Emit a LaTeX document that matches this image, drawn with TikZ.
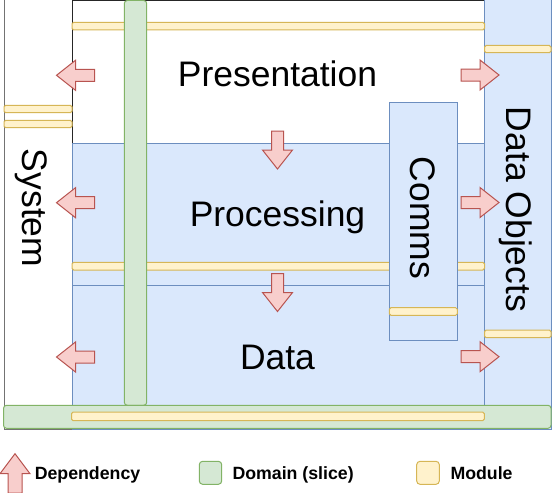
\documentclass[tikz,border=0pt]{standalone}
\usepackage{fontspec}
\setmainfont{Liberation Sans}
\definecolor{bluefill}{HTML}{DAE8FC}
\definecolor{bluedraw}{HTML}{6C8EBF}
\definecolor{greenfill}{HTML}{D5E8D4}
\definecolor{greendraw}{HTML}{82B366}
\definecolor{yellowfill}{HTML}{FFF2CC}
\definecolor{yellowdraw}{HTML}{D6B656}
\definecolor{redfill}{HTML}{F8CECC}
\definecolor{reddraw}{HTML}{B85450}
\tikzset{
  presbox/.style={fill=white,draw=black!85},
  sysbox/.style={fill=white,draw=black!55},
  bluebox/.style={fill=bluefill,draw=bluedraw},
  greenbar/.style={fill=greenfill,draw=greendraw,rounded corners=2.25pt},
  modbar/.style={fill=yellowfill,draw=yellowdraw,rounded corners=1.2pt},
  deparrow/.style={fill=redfill,draw=reddraw},
  biglabel/.style={font=\fontsize{26.6}{30}\selectfont,inner sep=0pt,text height=19pt,text depth=0pt},
  leglabel/.style={font=\fontsize{13.3}{16}\selectfont\bfseries,inner sep=0pt,anchor=base west},
  dep/.pic={\draw[deparrow] (-19,-6) -- (0,-6) -- (0,-15) -- (19,0) -- (0,15) -- (0,6) -- (-19,6) -- cycle;}
}
\begin{document}
\begin{tikzpicture}[x=0.75pt,y=-0.75pt,line width=0.75pt]
\useasboundingbox (0,0) rectangle (552,492);
% layers
\draw[sysbox] (4,-2) rectangle (72,429);
\draw[presbox] (72,0.5) rectangle (484.5,143);
\draw[bluebox] (72,143) rectangle (484.5,285);
\draw[bluebox] (72,285) rectangle (484.5,429);
\draw[bluebox] (484.5,-2) rectangle (551,429);
% modules
\draw[modbar] (72,22.3) rectangle (484.5,30);
\draw[modbar] (4,105.3) rectangle (72,112.7);
\draw[modbar] (4,120.3) rectangle (72,127.7);
\draw[modbar] (484.5,45.5) rectangle (551,52.7);
\draw[modbar] (484.5,330) rectangle (551,337.7);
\draw[modbar] (72,262.3) rectangle (484.5,270);
% comms
\draw[bluebox] (389.3,102.3) rectangle (457.3,340);
\draw[modbar] (389.3,307.7) rectangle (457.3,315.3);
% domain slices
\draw[greenbar] (124.3,0.5) rectangle (146.7,405.3);
\draw[greenbar] (3.5,405.3) rectangle (551,428.3);
\draw[modbar] (71.5,412) rectangle (484.3,420.7);
% dependency arrows
\pic[rotate=180] at (75.5,75.3) {dep};
\pic[rotate=180] at (75.5,202.7) {dep};
\pic[rotate=180] at (75.5,357) {dep};
\pic at (480,75) {dep};
\pic at (480,202.5) {dep};
\pic at (480,356.7) {dep};
\pic[rotate=-90] at (277.5,150) {dep};
\pic[rotate=-90] at (277.5,292.5) {dep};
% labels
\node[biglabel] (pres) at (277.5,73.5) {Presentation};
\node[biglabel] (proc) at (277.5,213.5) {Processing};
\node[biglabel] (data) at (277.5,357) {Data};
\node[biglabel,rotate=-90] (comms) at (423,218) {Comms};
\node[biglabel,rotate=-90] (dobj) at (519.5,209.5) {Data Objects};
\node[biglabel,rotate=-90] (sys) at (35.5,208) {System};
% legend
\draw[deparrow] (15,453.7) -- (30,473.7) -- (22,473.7) -- (22,493) -- (8,493) -- (8,473.7) -- (0,473.7) -- cycle;
\node[leglabel] (legdep) at (34.3,479.3) {Dependency};
\draw[fill=greenfill,draw=greendraw,rounded corners=2.5pt] (199.3,461.3) rectangle (221.7,484.3);
\node[leglabel] (legdom) at (232,479.3) {Domain (slice)};
\draw[fill=yellowfill,draw=yellowdraw,rounded corners=2.5pt] (416.7,461.3) rectangle (439.3,484.3);
\node[leglabel] (legmod) at (450,479.3) {Module};
\end{tikzpicture}
\end{document}
